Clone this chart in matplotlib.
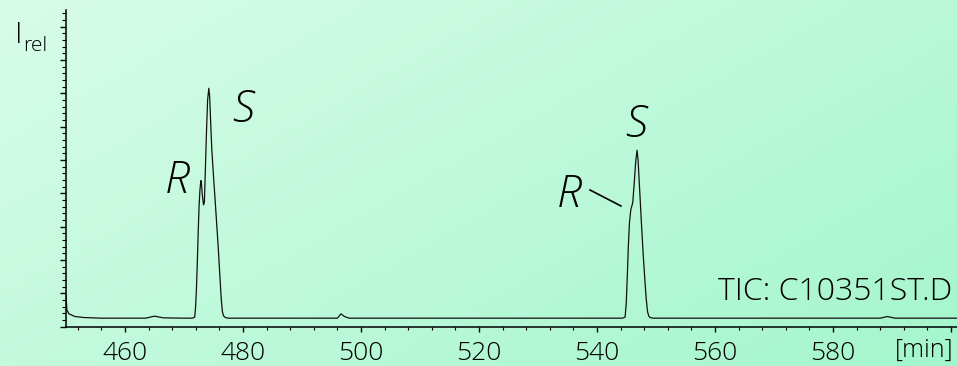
import numpy as np
import matplotlib.pyplot as plt
from matplotlib.ticker import MultipleLocator

plt.rcParams['font.family'] = ['Open Sans', 'DejaVu Sans']
plt.rcParams['font.weight'] = 'light'

# chromatogram trace (TIC), time in min, relative intensity
time_min = [450.0, 450.15, 450.5, 451.5, 453.0, 456.0, 460.0, 463.5, 465.0, 466.5, 470.0,
            471.4, 471.8, 471.95, 472.1, 472.25, 472.4, 472.55, 472.7, 472.85, 472.95,
            473.1, 473.3, 473.45, 473.6, 473.8, 474.0, 474.2, 474.35, 474.5, 474.7,
            475.0, 475.25, 475.55, 475.8, 476.05, 476.3, 476.5, 476.7, 477.0, 477.5,
            485.0, 496.0, 496.6, 497.2, 498.0, 510.0, 530.0, 544.3, 544.75, 544.95,
            545.14, 545.3, 545.48, 545.65, 545.76, 545.9, 546.05, 546.3, 546.55, 546.78,
            546.95, 547.1, 547.29, 547.55, 547.85, 548.1, 548.31, 548.55, 548.75, 548.98,
            549.5, 560.0, 575.0, 588.0, 589.2, 590.5, 601.0]
intensity = [0.93, 0.50, 0.38, 0.30, 0.27, 0.25, 0.25, 0.25, 0.31, 0.26, 0.25,
             0.25, 0.28, 0.55, 1.10, 1.90, 2.80, 3.60, 4.10, 4.38, 4.30,
             3.95, 3.65, 3.72, 4.60, 5.80, 6.80, 7.15, 6.90, 6.20, 5.35,
             4.50, 3.85, 3.05, 2.37, 1.60, 0.85, 0.45, 0.32, 0.27, 0.25,
             0.25, 0.25, 0.38, 0.30, 0.25, 0.25, 0.25, 0.25, 0.28, 0.70,
             1.59, 2.40, 3.09, 3.40, 3.54, 3.62, 3.72, 4.30, 4.95, 5.29,
             5.00, 4.50, 3.87, 3.00, 2.07, 1.40, 0.87, 0.45, 0.32, 0.27,
             0.25, 0.25, 0.25, 0.25, 0.30, 0.25, 0.25]

xticks = [460, 480, 500, 520, 540, 560, 580, 600]
xticklabels = ['460', '480', '500', '520', '540', '560', '580', '']

W, H = 957, 366

def px(x, y):
    return x / W, 1 - y / H

fig = plt.figure(figsize=(W / 100, H / 100), dpi=100)

# mint diagonal gradient background
bg = fig.add_axes([0, 0, 1, 1], zorder=-10)
gx, gy = np.meshgrid(np.linspace(0, 1, 200), np.linspace(0, 1, 80))
g = (0.6 * gx + 0.4 * gy)
c0 = np.array([216, 252, 233]) / 255
c1 = np.array([164, 246, 205]) / 255
img = c0[None, None, :] * (1 - g[..., None]) + c1[None, None, :] * g[..., None]
bg.imshow(img, aspect='auto', extent=[0, 1, 0, 1], origin='upper')
bg.axis('off')

ax = fig.add_axes([66 / W, 1 - 326.5 / H, (W - 66) / W, (326.5 - 10) / H])
ax.patch.set_alpha(0)
ax.plot(time_min, intensity, color='#111111', lw=0.9)

ax.set_xlim(450, 601)
ax.set_ylim(0, 9.5)
ax.set_xticks(xticks)
ax.set_xticklabels(xticklabels, fontsize=19)
ax.xaxis.set_minor_locator(MultipleLocator(4))
ax.yaxis.set_major_locator(MultipleLocator(1))
ax.yaxis.set_minor_locator(MultipleLocator(0.2))
ax.set_yticklabels([])
for s in ['top', 'right']:
    ax.spines[s].set_visible(False)
for s in ['left', 'bottom']:
    ax.spines[s].set_linewidth(1.1)
ax.tick_params(axis='x', which='major', length=3.6, width=1, pad=7)
ax.tick_params(axis='x', which='minor', length=2.2, width=0.8)
ax.tick_params(axis='y', which='major', length=4.3, width=1)
ax.tick_params(axis='y', which='minor', length=2.9, width=0.8)

# peak labels
for lab, (x, y) in [('S', (243, 110)), ('R', (177, 181)), ('S', (636, 125)), ('R', (569, 195))]:
    fig.text(*px(x, y), lab, fontsize=32, fontstyle='italic', ha='center', va='center')
fig.add_artist(plt.Line2D([590 / W, 621 / W], [1 - 190 / H, 1 - 206 / H], color='black', lw=1.2))

fig.text(*px(15, 43), 'I', fontsize=21, ha='left', va='baseline')
fig.text(*px(23, 51), 'rel', fontsize=15, ha='left', va='baseline')
fig.text(*px(952, 300), 'TIC: C10351ST.D', fontsize=23, ha='right', va='baseline')
fig.text(*px(924, 350), '[min]', fontsize=18, ha='center', va='center')

fig.savefig('out.png', dpi=100)
